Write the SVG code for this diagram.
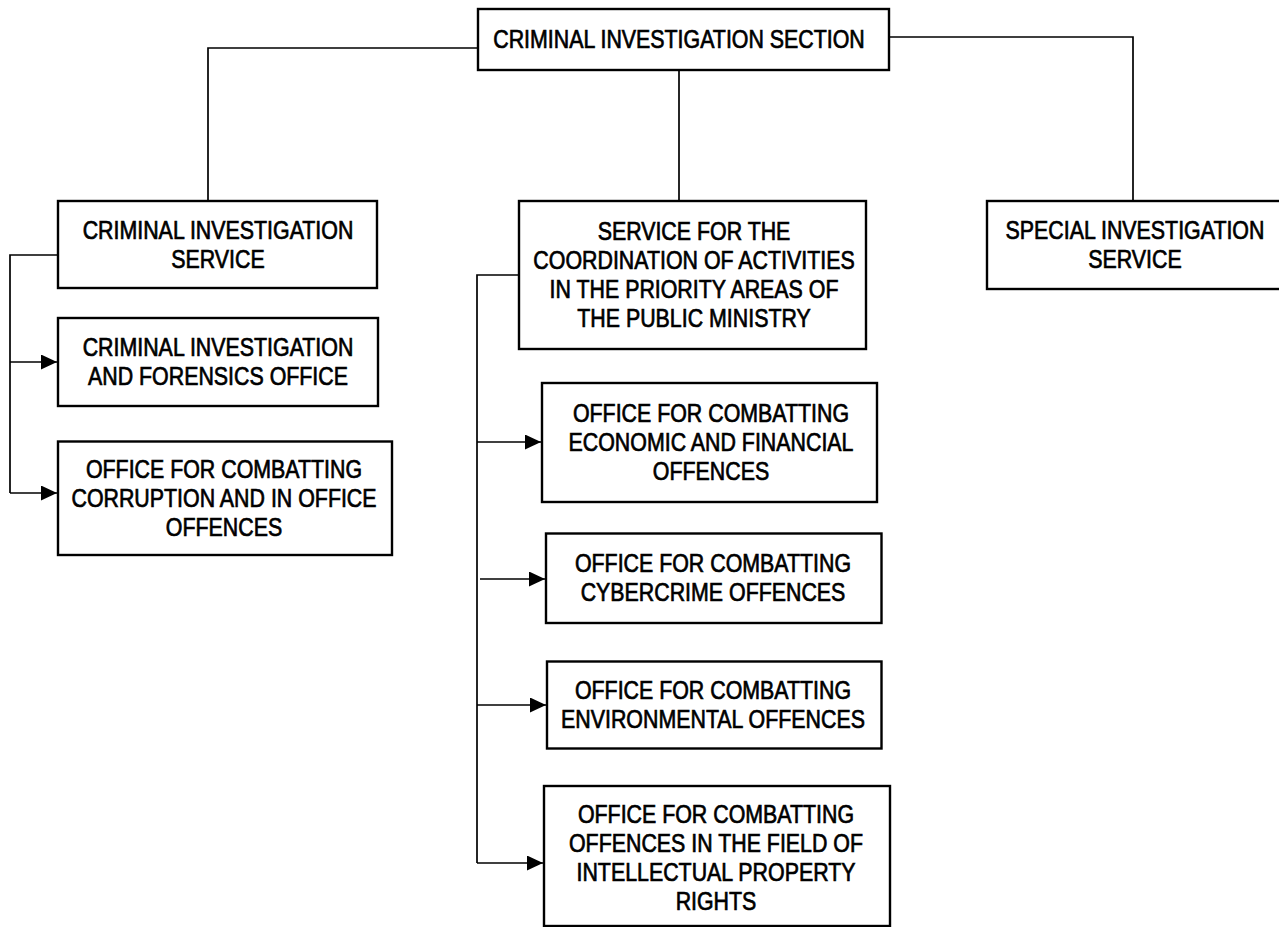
<svg xmlns="http://www.w3.org/2000/svg" width="1279" height="927" viewBox="0 0 1279 927">
<style>
.box{fill:#fff;stroke:#000;stroke-width:2.4}
.lbl{font-family:"Liberation Sans",Arial,sans-serif;font-size:25px;fill:#000;stroke:#000;stroke-width:0.7;text-anchor:middle}
.con{fill:none;stroke:#000;stroke-width:1.7}
</style>
<defs>
<marker id="arr" markerUnits="userSpaceOnUse" markerWidth="18" markerHeight="18" refX="16" refY="7.5" orient="auto">
<path d="M0,0 L16,7.5 L0,15 Z" fill="#000"/>
</marker>
</defs>
<rect width="1279" height="927" fill="#fff"/>
<g id="connectors">
<polyline class="con" points="478,48 208,48 208,201"/>
<line class="con" x1="679" y1="70" x2="679" y2="201"/>
<polyline class="con" points="889,37 1133,37 1133,201"/>
<polyline class="con" points="58,255 10,255 10,493"/>
<line class="con" x1="10" y1="362" x2="57" y2="362" marker-end="url(#arr)"/>
<line class="con" x1="10" y1="493" x2="57" y2="493" marker-end="url(#arr)"/>
<polyline class="con" points="519,275 477,275 477,863"/>
<line class="con" x1="477" y1="442" x2="541" y2="442" marker-end="url(#arr)"/>
<line class="con" x1="480" y1="579" x2="545" y2="579" marker-end="url(#arr)"/>
<line class="con" x1="477" y1="705" x2="546" y2="705" marker-end="url(#arr)"/>
<line class="con" x1="477" y1="863" x2="543" y2="863" marker-end="url(#arr)"/>
</g>
<g id="n-section">
<rect class="box" x="478" y="9" width="411" height="61"/>
<text class="lbl" transform="translate(679 0) scale(0.855 1)"><tspan x="0" y="48.5">CRIMINAL INVESTIGATION SECTION</tspan></text>
</g>
<g id="n-cis">
<rect class="box" x="58" y="201" width="319" height="87"/>
<text class="lbl" transform="translate(218 0) scale(0.855 1)"><tspan x="0" y="239.5">CRIMINAL INVESTIGATION</tspan><tspan x="0" y="268.5">SERVICE</tspan></text>
</g>
<g id="n-sca">
<rect class="box" x="519" y="201" width="347" height="148"/>
<text class="lbl" transform="translate(694 0) scale(0.855 1)"><tspan x="0" y="240.5">SERVICE FOR THE</tspan><tspan x="0" y="269.5">COORDINATION OF ACTIVITIES</tspan><tspan x="0" y="298.5">IN THE PRIORITY AREAS OF</tspan><tspan x="0" y="327.5">THE PUBLIC MINISTRY</tspan></text>
</g>
<g id="n-sis">
<rect class="box" x="987" y="201" width="300" height="88"/>
<text class="lbl" transform="translate(1135 0) scale(0.855 1)"><tspan x="0" y="239.5">SPECIAL INVESTIGATION</tspan><tspan x="0" y="268.5">SERVICE</tspan></text>
</g>
<g id="n-cifo">
<rect class="box" x="58" y="318" width="320" height="88"/>
<text class="lbl" transform="translate(218 0) scale(0.855 1)"><tspan x="0" y="356.5">CRIMINAL INVESTIGATION</tspan><tspan x="0" y="385.5">AND FORENSICS OFFICE</tspan></text>
</g>
<g id="n-occ">
<rect class="box" x="58" y="441.5" width="334" height="113.5"/>
<text class="lbl" transform="translate(224 0) scale(0.855 1)"><tspan x="0" y="478">OFFICE FOR COMBATTING</tspan><tspan x="0" y="507">CORRUPTION AND IN OFFICE</tspan><tspan x="0" y="536">OFFENCES</tspan></text>
</g>
<g id="n-eco">
<rect class="box" x="542" y="383" width="335" height="119"/>
<text class="lbl" transform="translate(711 0) scale(0.855 1)"><tspan x="0" y="422.5">OFFICE FOR COMBATTING</tspan><tspan x="0" y="451.5">ECONOMIC AND FINANCIAL</tspan><tspan x="0" y="480.5">OFFENCES</tspan></text>
</g>
<g id="n-cyb">
<rect class="box" x="546" y="533.5" width="335.5" height="89.5"/>
<text class="lbl" transform="translate(713 0) scale(0.855 1)"><tspan x="0" y="572.5">OFFICE FOR COMBATTING</tspan><tspan x="0" y="601.5">CYBERCRIME OFFENCES</tspan></text>
</g>
<g id="n-env">
<rect class="box" x="547" y="661.5" width="334.5" height="87"/>
<text class="lbl" transform="translate(713 0) scale(0.855 1)"><tspan x="0" y="699.5">OFFICE FOR COMBATTING</tspan><tspan x="0" y="728.5">ENVIRONMENTAL OFFENCES</tspan></text>
</g>
<g id="n-ip">
<rect class="box" x="544" y="786" width="346" height="140"/>
<text class="lbl" transform="translate(716 0) scale(0.855 1)"><tspan x="0" y="823.5">OFFICE FOR COMBATTING</tspan><tspan x="0" y="852.5">OFFENCES IN THE FIELD OF</tspan><tspan x="0" y="881.5">INTELLECTUAL PROPERTY</tspan><tspan x="0" y="910.5">RIGHTS</tspan></text>
</g>
</svg>
